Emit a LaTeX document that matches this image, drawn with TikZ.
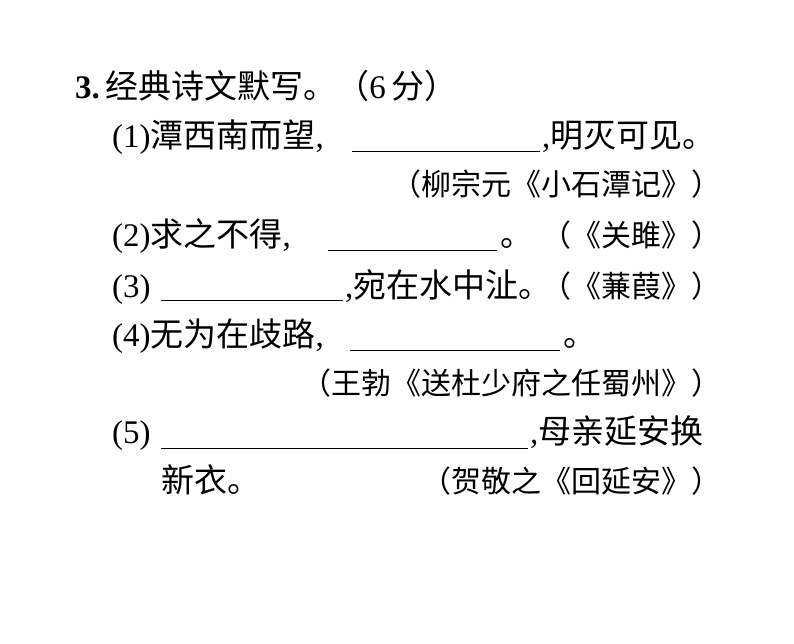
\documentclass[tikz,border=0pt]{standalone}
\usepackage{fontspec}
\setmainfont{Liberation Serif}
\newfontfamily\cjk{Noto Sans CJK SC}
\begin{document}
\begin{tikzpicture}[x=1pt,y=-1pt,
  t/.style={anchor=base west,inner sep=0pt,font=\fontsize{33}{33}\selectfont},
  r/.style={anchor=base east,inner sep=0pt,font=\fontsize{30}{30}\selectfont},
  blank/.style={line width=1pt}]
\useasboundingbox (0,0) rectangle (794,644);
\node[t] (h) at (75,99) {\textbf{3.}\,{\cjk 经典诗文默写。}{\cjk（}6\,{\cjk 分）}};
\node[t] (l1) at (112,148) {(1){\cjk 潭西南而望},};
\coordinate (b1a) at (352,152); \coordinate (b1b) at (540,152);
\draw[blank] (b1a) -- (b1b);
\node[t] (l1b) at (542,148) {,{\cjk 明灭可见。}};
\node[r] (s1) at (722,196) {\cjk （柳宗元《小石潭记》）};
\node[t] (l2) at (112,247) {(2){\cjk 求之不得},};
\coordinate (b2a) at (328,250); \coordinate (b2b) at (497,250);
\draw[blank] (b2a) -- (b2b);
\node[t] (l2b) at (500,247) {\cjk 。};
\node[r] (s2) at (722,247) {\cjk （《关雎》）};
\node[t] (l3) at (112,297) {(3)};
\coordinate (b3a) at (161,300); \coordinate (b3b) at (343,300);
\draw[blank] (b3a) -- (b3b);
\node[t] (l3b) at (345,297) {,{\cjk 宛在水中沚。}};
\node[r] (s3) at (722,297) {\cjk （《蒹葭》）};
\node[t] (l4) at (112,346) {(4){\cjk 无为在歧路},};
\coordinate (b4a) at (350,350); \coordinate (b4b) at (560,350);
\draw[blank] (b4a) -- (b4b);
\node[t] (l4b) at (563,346) {\cjk 。};
\node[r] (s4) at (722,394) {\cjk （王勃《送杜少府之任蜀州》）};
\node[t] (l5) at (112,443) {(5)};
\coordinate (b5a) at (161,448); \coordinate (b5b) at (528,448);
\draw[blank] (b5a) -- (b5b);
\node[t] (l5b) at (530,443) {,{\cjk 母亲延安换}};
\node[t] (l5c) at (161,492) {\cjk 新衣。};
\node[r] (s5) at (722,492) {\cjk （贺敬之《回延安》）};
\end{tikzpicture}
\end{document}
